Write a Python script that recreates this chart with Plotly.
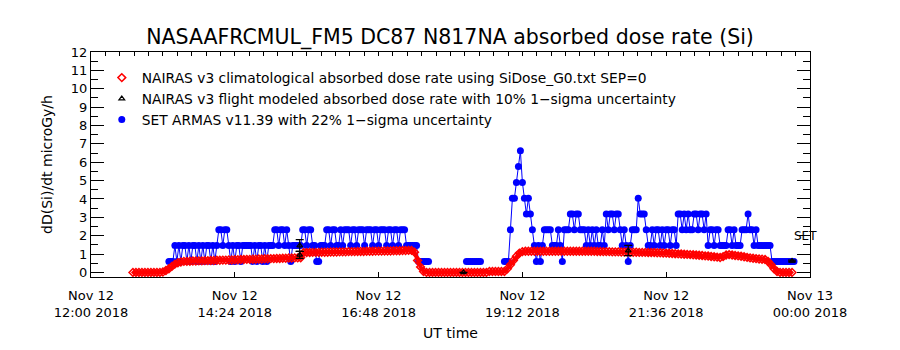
import pandas as pd
import plotly.graph_objects as go

# ---------------- data ----------------
X_RANGE = ["2018-11-12 12:00", "2018-11-13 00:00"]

tick_times = ["2018-11-12 12:00", "2018-11-12 14:24", "2018-11-12 16:48",
              "2018-11-12 19:12", "2018-11-12 21:36", "2018-11-13 00:00"]
tick_labels = ["Nov 12<br>12:00 2018", "Nov 12<br>14:24 2018", "Nov 12<br>16:48 2018",
               "Nov 12<br>19:12 2018", "Nov 12<br>21:36 2018", "Nov 13<br>00:00 2018"]

# NAIRAS v3 climatological dose rate (3-minute samples starting 12:42)
clim_start = "2018-11-12 12:42"
clim_step_min = 3
clim_rate = [
    0, 0, 0, 0, 0, 0, 0, 0, 0, 0,
    0.02, 0.1, 0.2, 0.33, 0.45, 0.53, 0.57, 0.6, 0.6, 0.61,
    0.62, 0.62, 0.63, 0.63, 0.64, 0.64, 0.65, 0.65, 0.66, 0.66, 0.67, 0.67,
    0.68, 0.68, 0.69, 0.69, 0.70, 0.70, 0.71, 0.71, 0.72, 0.72, 0.73, 0.73,
    0.74, 0.74, 0.75, 0.75, 0.76, 0.76, 0.77, 0.77, 0.78, 0.78, 0.79, 0.79, 0.80,
    1.08, 1.08, 1.08, 1.09, 1.09, 1.09, 1.10, 1.10, 1.10, 1.11, 1.11, 1.11,
    1.12, 1.12, 1.12, 1.13, 1.13, 1.13, 1.14, 1.14, 1.14, 1.15, 1.15, 1.15,
    1.16, 1.16, 1.16, 1.17, 1.17, 1.17, 1.18, 1.18, 1.18, 1.19, 1.19, 1.20, 1.20,
    1.1, 0.65, 0.3, 0.05,
    0, 0, 0, 0, 0, 0, 0, 0, 0, 0, 0, 0, 0, 0, 0, 0, 0, 0, 0, 0, 0,
    0.05, 0.05, 0.05, 0.05, 0.05, 0.05,
    0.2, 0.42, 0.65, 0.88, 1.05, 1.13,
    1.15, 1.15, 1.15, 1.15, 1.15, 1.15, 1.15, 1.15, 1.15, 1.15, 1.15, 1.15,
    1.15, 1.15, 1.15, 1.15, 1.15, 1.15, 1.15, 1.15, 1.15, 1.15, 1.15, 1.15,
    1.14, 1.14, 1.13, 1.13, 1.13, 1.12, 1.12, 1.12, 1.11, 1.11, 1.11,
    1.10, 1.10, 1.10, 1.09, 1.09, 1.09, 1.08, 1.08, 1.08, 1.07, 1.07,
    1.06, 1.05, 1.04, 1.03, 1.02, 1.01, 1.0, 0.99, 0.98, 0.97, 0.96, 0.95,
    0.93, 0.92, 0.90, 0.89, 0.87, 0.85, 0.83, 0.81,
    0.86, 0.95, 0.97, 0.95, 0.92, 0.9, 0.88, 0.85, 0.82, 0.79, 0.77, 0.75,
    0.73, 0.72, 0.70,
    0.6, 0.42, 0.2, 0.05,
    0, 0, 0, 0, 0,
]

# NAIRAS v3 flight modeled dose rate with 10% 1-sigma uncertainty
model_times = ["2018-11-12 15:29", "2018-11-12 15:29", "2018-11-12 18:13",
               "2018-11-12 20:58", "2018-11-12 23:42"]
model_rate = [1.46, 0.95, 0.0, 1.19, 0.62]
model_err = [0.32, 0.19, 0.0, 0.28, 0.05]

# SET ARMAS v11.39 (2-minute samples, three contiguous segments)
armas_step_min = 2
armas_seg_starts = ["2018-11-12 13:18", "2018-11-12 18:16", "2018-11-12 18:54"]
armas_seg1 = [
    0.6, 0.6, 0.6, 1.46, 0.6, 1.46, 0.6, 1.46, 1.46, 0.6, 1.46, 0.6, 1.46, 1.46,
    0.6, 1.46, 0.6, 1.46, 0.6, 1.46, 1.46, 0.6, 1.46, 0.6, 1.46, 2.32, 2.32, 1.46,
    2.32, 2.32, 1.46, 0.6, 1.46, 0.6, 1.46, 1.46, 0.6, 1.46, 1.46, 1.46, 1.46, 1.46,
    0.6, 1.46, 0.6, 1.46, 1.46, 0.6, 1.46, 0.6, 1.46, 1.46, 1.46, 2.32, 2.32, 1.46,
    2.32, 2.32, 1.46, 2.32, 1.46, 0.6, 1.46, 1.46, 1.46, 1.46, 1.46, 2.32, 2.32, 1.46,
    2.32, 2.32, 1.46, 1.46, 0.6, 0.6, 1.46, 1.46, 1.46, 2.32, 2.32, 1.46, 2.32, 2.32,
    1.46, 1.46, 2.32, 1.46, 2.32, 2.32, 2.32, 1.46, 2.32, 2.32, 1.46, 2.32, 2.32, 2.32,
    1.46, 2.32, 2.32, 2.32, 1.46, 2.32, 2.32, 1.46, 2.32, 2.32, 2.32, 1.46, 2.32, 2.32,
    1.46, 2.32, 2.32, 1.46, 2.32, 2.32, 2.32, 1.46, 1.46, 1.46, 1.46, 1.46, 1.46,
    0.6, 0.6, 0.6, 0.6, 0.6, 0.6,
]
armas_seg2 = [0.6, 0.6, 0.6, 0.6, 0.6, 0.6, 0.6, 0.6]
armas_seg3 = [
    0.6, 0.6, 0.6, 2.32, 4.04, 4.04, 4.9, 5.76, 6.62, 4.9, 4.04, 3.18, 4.04, 3.18,
    2.32, 1.46, 0.6, 1.46, 0.6, 1.46, 2.32, 2.32, 2.32, 2.32, 1.46, 1.46, 1.46, 2.32,
    1.46, 0.6, 2.32, 2.32, 2.32, 3.18, 3.18, 2.32, 3.18, 3.18, 2.32, 2.32, 2.32, 1.46,
    2.32, 1.46, 2.32, 1.46, 2.32, 1.46, 1.46, 2.32, 1.46, 3.18, 2.32, 3.18, 3.18, 2.32,
    3.18, 3.18, 2.32, 1.46, 2.32, 1.46, 0.6, 1.46, 2.32, 2.32, 2.32, 4.04, 3.18, 3.18,
    3.18, 2.32, 1.46, 1.46, 2.32, 1.46, 2.32, 2.32, 1.46, 2.32, 1.46, 2.32, 2.32, 1.46,
    2.32, 2.32, 1.46, 3.18, 3.18, 2.32, 3.18, 2.32, 3.18, 2.32, 2.32, 3.18, 3.18, 2.32,
    3.18, 3.18, 2.32, 3.18, 1.46, 2.32, 2.32, 1.46, 2.32, 2.32, 1.46, 1.46, 1.46, 1.46,
    2.32, 2.32, 1.46, 2.32, 1.46, 1.46, 1.46, 2.32, 2.32, 2.32, 3.18, 2.32, 2.32, 1.46,
    2.32, 1.46, 1.46, 1.46, 1.46, 1.46, 1.46, 1.46, 0.6, 0.6, 0.6, 0.6, 0.6, 0.6,
    0.6, 0.6, 0.6, 0.6, 0.6, 0.6,
]

# ---------------- build time axes from sample cadence ----------------
clim_t = pd.date_range(clim_start, periods=len(clim_rate), freq=f"{clim_step_min}min")

armas_t, armas_v = [], []
for start, seg in zip(armas_seg_starts, [armas_seg1, armas_seg2, armas_seg3]):
    ts = pd.date_range(start, periods=len(seg), freq=f"{armas_step_min}min")
    armas_t += list(ts) + [ts[-1]]
    armas_v += list(seg) + [None]

FONT = "DejaVu Sans"
BLUE = "#0000ff"
RED = "#ff0000"

fig = go.Figure()

# SET ARMAS: connecting line (no legend) + markers (legend)
fig.add_trace(go.Scatter(
    x=armas_t, y=armas_v, mode="lines", connectgaps=False,
    line=dict(color=BLUE, width=1), showlegend=False, hoverinfo="skip",
))
fig.add_trace(go.Scatter(
    x=armas_t, y=armas_v, mode="markers",
    name="SET ARMAS v11.39 with 22% 1\u2212sigma uncertainty",
    marker=dict(symbol="circle", size=7, color=BLUE),
    legendrank=3, legendgroup="c",
))
# Climatological: dense band + open diamonds
fig.add_trace(go.Scatter(
    x=clim_t, y=clim_rate, mode="lines",
    line=dict(color=RED, width=4), showlegend=False, hoverinfo="skip",
))
fig.add_trace(go.Scatter(
    x=clim_t, y=clim_rate, mode="markers",
    name="NAIRAS v3 climatological absorbed dose rate using SiDose_G0.txt SEP=0",
    marker=dict(symbol="diamond-open", size=6, color=RED, line=dict(width=1.5, color=RED)),
    legendrank=1, legendgroup="a",
))
fig.add_trace(go.Scatter(
    x=pd.to_datetime(model_times), y=model_rate, mode="markers",
    name="NAIRAS v3 flight modeled absorbed dose rate with 10% 1\u2212sigma uncertainty",
    marker=dict(symbol="triangle-up-open", size=5, color="black", line=dict(width=1.2, color="black")),
    error_y=dict(type="data", array=model_err, visible=True, color="black", thickness=1.2, width=4),
    legendrank=2, legendgroup="b",
))
# carrier for the top (minor tick) axis
fig.add_trace(go.Scatter(x=[0, 720], y=[None, None], xaxis="x2", yaxis="y",
                         mode="lines", showlegend=False, hoverinfo="skip"))

fig.add_annotation(x=pd.Timestamp("2018-11-12 23:42"), y=2.0, text="SET", showarrow=False,
                   xanchor="left", yanchor="middle", font=dict(family=FONT, size=12, color="black"))

fig.update_layout(
    width=900, height=350,
    margin=dict(l=91, r=90, t=52, b=71),
    paper_bgcolor="white", plot_bgcolor="white",
    font=dict(family=FONT, color="black"),
    title=dict(text="NASAAFRCMUL_FM5 DC87 N817NA absorbed dose rate (Si)",
               x=0.5, xanchor="center", y=1 - 37 / 350, yanchor="middle", yref="container",
               font=dict(family=FONT, size=20.5, color="black")),
    showlegend=True,
    legend=dict(x=0.015, y=0.955, xanchor="left", yanchor="top",
                bgcolor="rgba(0,0,0,0)", borderwidth=0,
                traceorder="grouped", tracegroupgap=0,
                font=dict(family=FONT, size=13.8, color="black"),
                itemwidth=30),
    xaxis=dict(type="date", range=X_RANGE, tickmode="array",
               tickvals=pd.to_datetime(tick_times), ticktext=tick_labels,
               ticks="inside", ticklen=5, tickcolor="black",
               showline=True, linecolor="black", linewidth=1, mirror=True,
               showgrid=False, zeroline=False,
               tickfont=dict(family=FONT, size=13, color="black"),
               ticklabelstandoff=6,
               title=dict(text="UT time", standoff=9, font=dict(family=FONT, size=14, color="black"))),
    xaxis2=dict(overlaying="x", anchor="y", side="top", range=[0, 720],
                tickmode="linear", tick0=0, dtick=14.4,
                ticks="inside", ticklen=4, tickcolor="black",
                showticklabels=False, showline=False, showgrid=False, zeroline=False),
    yaxis=dict(range=[-0.25, 12], tickmode="linear", tick0=0, dtick=1,
               ticks="inside", ticklen=13, tickcolor="black",
               minor=dict(ticks="inside", ticklen=7, dtick=0.5, tick0=0, tickcolor="black"),
               showline=True, linecolor="black", linewidth=1, mirror="ticks",
               showgrid=False, zeroline=False,
               tickfont=dict(family=FONT, size=13, color="black"),
               title=dict(text="dD(Si)/dt microGy/h", standoff=14,
                          font=dict(family=FONT, size=14, color="black"))),
)

fig.write_html("out.html")
